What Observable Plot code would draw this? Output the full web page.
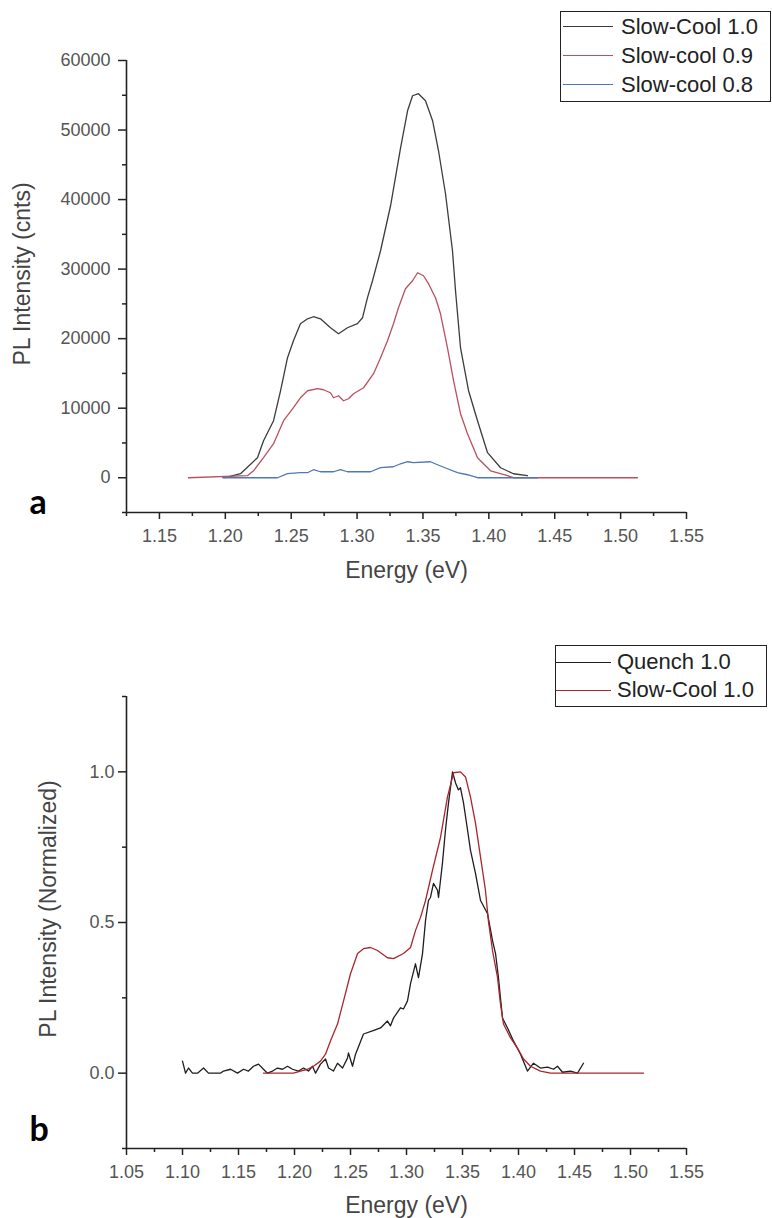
<!DOCTYPE html>
<html>
<head>
<meta charset="utf-8">
<script src="https://cdn.jsdelivr.net/npm/d3@7"></script>
<script src="https://cdn.jsdelivr.net/npm/@observablehq/plot@0.6"></script>
<style>
  body { margin: 0; background: #fff; }
  #root { position: relative; width: 772px; height: 1218px; overflow: hidden; font-family: "Liberation Sans", Arial, sans-serif; background:#fff; }
  .panel { position: absolute; left: 0; }
  .legend { position: absolute; border: 1.5px solid #222; background: #fff; box-sizing: border-box; }
  .row { display: flex; align-items: center; }
  .sw { border-top: 1.5px solid; }
  .lt { font-size: 22px; color: #222; white-space: nowrap; line-height: 1; }
</style>
</head>
<body>
<div id="root"></div>
<script>
// ---------- Panel a data ----------
const seriesA = ["Slow-Cool 1.0", "Slow-cool 0.9", "Slow-cool 0.8"];
const colorsA = ["#3c3c3c", "#b8525f", "#4f78b3"];

const energyA_sc10 = [1.200,1.2115,1.2244,1.229,1.2366,1.2419,1.2472,1.2517,1.257,1.2624,1.2669,1.2722,1.2798,1.2859,1.2927,1.3003,1.3041,1.3079,1.3117,1.3178,1.3254,1.333,1.3383,1.3421,1.3466,1.3519,1.3573,1.3618,1.3671,1.3724,1.3747,1.3785,1.3846,1.3914,1.399,1.4089,1.4187,1.4293];
const intensityA_sc10 = [0,575,2880,5320,8200,12500,17260,19700,22150,22860,23150,22860,21570,20700,21570,22150,23000,25900,28330,32640,39110,47450,52770,54930,55220,54210,51340,47020,40840,32640,26890,18690,12510,8200,3600,1440,575,290];

const energyA_sc09 = [1.172,1.2168,1.2214,1.229,1.2366,1.2442,1.2517,1.257,1.2624,1.27,1.2745,1.2798,1.2821,1.2859,1.2897,1.2935,1.2973,1.3049,1.3125,1.3178,1.3231,1.3276,1.3314,1.3367,1.3421,1.3459,1.3504,1.3542,1.3595,1.3633,1.3686,1.3732,1.3785,1.3838,1.3914,1.4013,1.4142,1.4187,1.5128];
const intensityA_sc09 = [0,290,1000,2880,4890,8200,10070,11500,12510,12800,12650,12220,11500,11790,11070,11360,12080,12940,14960,17260,19700,22150,24450,27180,28330,29480,29050,27900,25880,23580,18690,13950,9200,6330,2880,1000,290,0,0];

const energyA_sc08 = [1.198,1.2396,1.2472,1.257,1.2624,1.2669,1.2722,1.2821,1.2874,1.2927,1.3102,1.3178,1.3276,1.333,1.3383,1.3428,1.3557,1.361,1.3686,1.3762,1.3838,1.3914,1.4369];
const intensityA_sc08 = [0,0,580,720,720,1150,860,860,1150,860,860,1440,1580,2010,2300,2160,2300,1870,1290,720,430,0,0];

const xDomainA = [1.125, 1.55];
const yDomainA = [-5000, 60000];
const xTicksA = [1.15,1.20,1.25,1.30,1.35,1.40,1.45,1.50,1.55];
const xMinorA = [1.125,1.175,1.225,1.275,1.325,1.375,1.425,1.475,1.525];
const yTicksA = [0,10000,20000,30000,40000,50000,60000];
const yMinorA = [-5000,5000,15000,25000,35000,45000,55000];

// ---------- Panel b data ----------
const seriesB = ["Quench 1.0", "Slow-Cool 1.0"];
const colorsB = ["#1e1e1e", "#a8262c"];

const energyB_q10 = [1.100,1.1027,1.1054,1.1089,1.1134,1.1188,1.1232,1.1339,1.1366,1.1429,1.1491,1.1545,1.1589,1.1634,1.1679,1.1723,1.1759,1.1804,1.1848,1.1893,1.1938,1.1982,1.2036,1.208,1.2125,1.2161,1.2188,1.2232,1.2277,1.2304,1.2348,1.2384,1.2429,1.2473,1.2482,1.2518,1.2545,1.2616,1.2696,1.2768,1.283,1.2857,1.2884,1.2946,1.2973,1.3009,1.3036,1.308,1.3107,1.3143,1.317,1.3196,1.3214,1.3241,1.3277,1.3286,1.3321,1.3348,1.3375,1.3411,1.3438,1.3464,1.3482,1.3509,1.3545,1.3571,1.3616,1.3661,1.3723,1.3768,1.3795,1.3821,1.3857,1.3902,1.3955,1.4018,1.408,1.4134,1.4196,1.4259,1.4313,1.4348,1.4393,1.4464,1.4527,1.458];
const intensityB_q10 = [0.04,0,0.017,0,0,0.017,0,0,0.007,0.013,0,0.013,0.007,0.023,0.03,0.013,0,0.007,0.017,0.013,0.023,0.013,0.007,0.017,0.007,0.023,0,0.03,0.047,0.017,0.007,0.033,0.017,0.05,0.067,0.023,0.063,0.13,0.14,0.15,0.173,0.157,0.183,0.217,0.213,0.24,0.297,0.363,0.317,0.397,0.507,0.573,0.583,0.63,0.607,0.583,0.697,0.807,0.897,1.0,0.963,0.94,0.947,0.897,0.807,0.74,0.663,0.573,0.53,0.44,0.397,0.317,0.183,0.15,0.107,0.063,0.007,0.033,0.017,0.02,0.013,0.023,0.003,0.007,0,0.033];

const energyB_sc10 = [1.1723,1.1991,1.2054,1.2116,1.217,1.2232,1.2277,1.2321,1.2384,1.2438,1.25,1.2563,1.2616,1.2679,1.2741,1.283,1.2884,1.2973,1.3036,1.308,1.3125,1.317,1.3232,1.3304,1.3366,1.342,1.3482,1.3527,1.3571,1.3616,1.3661,1.3705,1.3732,1.3768,1.3813,1.3839,1.3866,1.3929,1.3991,1.4045,1.4107,1.4196,1.4286,1.5116];
const intensityB_sc10 = [0,0,0.007,0.013,0.023,0.04,0.063,0.107,0.163,0.24,0.33,0.397,0.413,0.417,0.407,0.383,0.38,0.397,0.417,0.473,0.517,0.573,0.673,0.783,0.917,0.997,1.0,0.983,0.917,0.83,0.717,0.607,0.503,0.407,0.317,0.23,0.163,0.117,0.083,0.047,0.023,0.007,0,0];

const xDomainB = [1.05, 1.55];
const yDomainB = [-0.25, 1.25];
const xTicksB = [1.05,1.10,1.15,1.20,1.25,1.30,1.35,1.40,1.45,1.50,1.55];
const xMinorB = [1.075,1.125,1.175,1.225,1.275,1.325,1.375,1.425,1.475,1.525];
const yTicksB = [0.0,0.5,1.0];
const yMinorB = [-0.25,0.25,0.75,1.25];

const xTitle = "Energy (eV)";
const yTitleA = "PL Intensity (cnts)";
const yTitleB = "PL Intensity (Normalized)";

// ---------- build tables ----------
function table(names, pairs) {
  const out = [];
  pairs.forEach(([es, vs], i) => es.forEach((e, j) => out.push({series: names[i], energy: e, value: vs[j]})));
  return out;
}
const dataA = table(seriesA, [[energyA_sc10, intensityA_sc10],[energyA_sc09, intensityA_sc09],[energyA_sc08, intensityA_sc08]]);
const dataB = table(seriesB, [[energyB_q10, intensityB_q10],[energyB_sc10, intensityB_sc10]]);

const FONT = "'Liberation Sans', Arial, sans-serif";
const AX = "#222";
const TXT = "#555";

function panel({data, names, colors, xDomain, yDomain, xTicks, xMinor, yTicks, yMinor, yFmt, height, marginTop, marginBottom, yTitle, yTitleDx, yTitleDy, xTitleDy, letter, letterDy, yTickPad}) {
  return Plot.plot({
    width: 772, height, marginLeft: 126, marginRight: 86, marginTop, marginBottom,
    style: {fontFamily: FONT, background: "white", overflow: "visible"},
    x: {domain: xDomain},
    y: {domain: yDomain},
    color: {domain: names, range: colors},
    marks: [
      Plot.axisX(xTicks, {tickSize: 7, tickPadding: 10, tickFormat: d3.format(".2f"), fontSize: 18, fill: TXT, stroke: AX, strokeWidth: 1.5, label: null}),
      Plot.axisX(xMinor, {tickSize: 4, tickFormat: () => "", stroke: AX, strokeWidth: 1.5, label: null}),
      Plot.axisY(yTicks, {tickSize: 8, tickPadding: yTickPad, tickFormat: yFmt, fontSize: 18, fill: TXT, stroke: AX, strokeWidth: 1.5, label: null}),
      Plot.axisY(yMinor, {tickSize: 4, tickFormat: () => "", stroke: AX, strokeWidth: 1.5, label: null}),
      Plot.ruleX([xDomain[0]], {stroke: AX, strokeWidth: 1.6}),
      Plot.ruleY([yDomain[0]], {stroke: AX, strokeWidth: 1.6}),
      Plot.line(data, {x: "energy", y: "value", z: "series", stroke: "series", strokeWidth: 1.3}),
      Plot.text([xTitle], {frameAnchor: "bottom", dy: xTitleDy, textAnchor: "middle", lineAnchor: "bottom", fontSize: 23, fill: "#444"}),
      Plot.text([yTitle], {frameAnchor: "left", rotate: -90, dx: yTitleDx, dy: yTitleDy, textAnchor: "middle", lineAnchor: "bottom", fontSize: 23, fill: "#444"}),
      Plot.text([letter], {frameAnchor: "bottom-left", dx: -97, dy: letterDy, textAnchor: "start", lineAnchor: "bottom", fontSize: 34, fontWeight: "bold", fontFamily: "Lato, 'Liberation Sans', sans-serif", fill: "#000"})
    ]
  });
}

const root = document.getElementById("root");

const svgA = panel({data: dataA, names: seriesA, colors: colorsA, xDomain: xDomainA, yDomain: yDomainA,
  xTicks: xTicksA, xMinor: xMinorA, yTicks: yTicksA, yMinor: yMinorA, yFmt: d3.format("d"),
  height: 600, marginTop: 60, marginBottom: 88, yTitle: yTitleA, yTitleDx: -97, yTitleDy: -12.5, xTitleDy: 65,
  letter: "a", letterDy: 1, yTickPad: 8});
const wrapA = document.createElement("div"); wrapA.className = "panel"; wrapA.style.top = "0px"; wrapA.appendChild(svgA); root.appendChild(wrapA);

const svgB = panel({data: dataB, names: seriesB, colors: colorsB, xDomain: xDomainB, yDomain: yDomainB,
  xTicks: xTicksB, xMinor: xMinorB, yTicks: yTicksB, yMinor: yMinorB, yFmt: d3.format(".1f"),
  height: 618, marginTop: 96, marginBottom: 70, yTitle: yTitleB, yTitleDx: -71, yTitleDy: -13.5, xTitleDy: 64,
  letter: "b", letterDy: -8, yTickPad: 4});
const wrapB = document.createElement("div"); wrapB.className = "panel"; wrapB.style.top = "600px"; wrapB.appendChild(svgB); root.appendChild(wrapB);

// ---------- legends ----------
function legend(names, colors, {left, top, width, height, rowH, padTop, swLeft, swW, gap}) {
  const box = document.createElement("div");
  box.className = "legend";
  Object.assign(box.style, {left: left + "px", top: top + "px", width: width + "px", height: height + "px", paddingTop: padTop + "px"});
  names.forEach((n, i) => {
    const row = document.createElement("div");
    row.className = "row"; row.style.height = rowH + "px";
    const sw = document.createElement("div");
    sw.className = "sw"; sw.style.width = swW + "px"; sw.style.marginLeft = swLeft + "px"; sw.style.borderTopColor = colors[i];
    const t = document.createElement("span");
    t.className = "lt"; t.style.marginLeft = gap + "px"; t.textContent = n;
    row.appendChild(sw); row.appendChild(t); box.appendChild(row);
  });
  root.appendChild(box);
}
legend(seriesA, colorsA, {left: 560, top: 11, width: 211, height: 91, rowH: 29, padTop: 0, swLeft: 2, swW: 50, gap: 8});
legend(seriesB, colorsB, {left: 555, top: 645, width: 212, height: 62, rowH: 28, padTop: 2, swLeft: 0, swW: 55, gap: 6});
</script>
</body>
</html>
